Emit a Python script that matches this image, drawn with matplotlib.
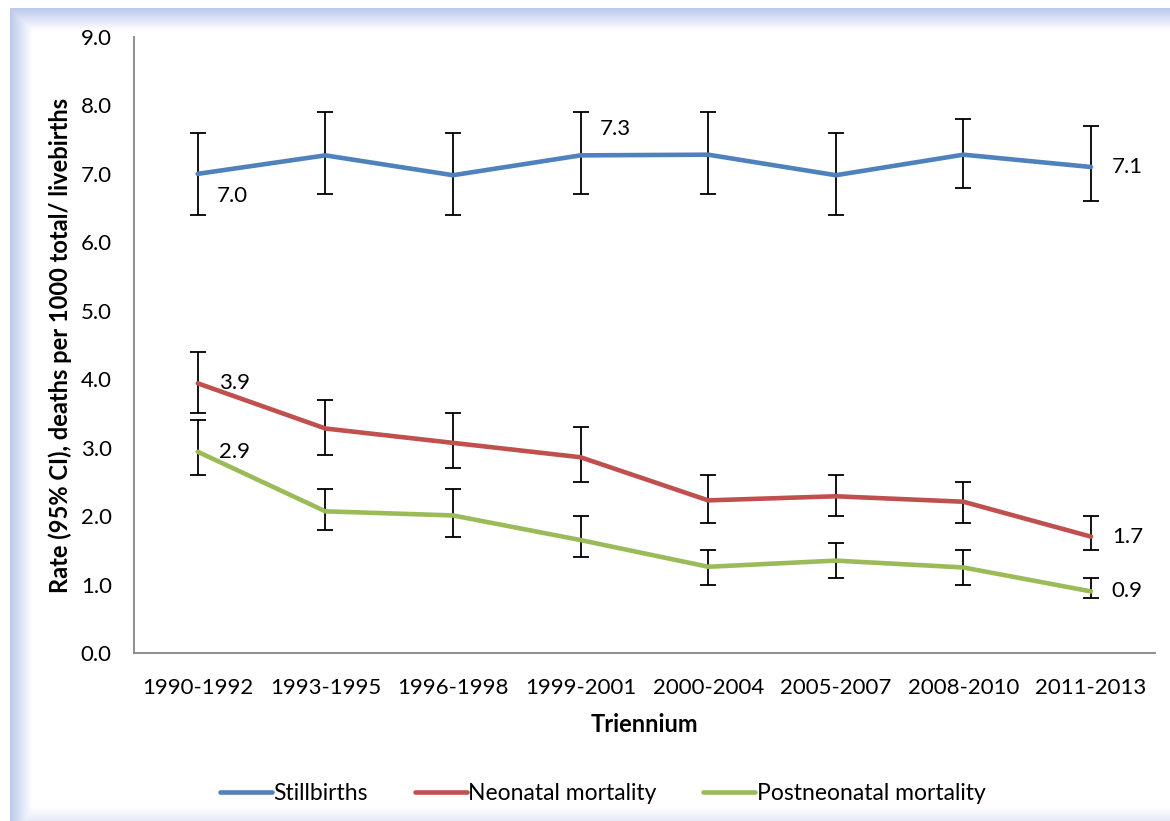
import numpy as np
import matplotlib.pyplot as plt

plt.rcParams['font.family'] = ['Lato', 'DejaVu Sans']

# trienniums on the x axis
periods = ['1990-1992', '1993-1995', '1996-1998', '1999-2001',
           '2000-2004', '2005-2007', '2008-2010', '2011-2013']

# rates per 1000 with 95% CI bounds
still_rate = [7.0, 7.27, 6.98, 7.27, 7.28, 6.98, 7.28, 7.1]
still_lo = [6.4, 6.7, 6.4, 6.7, 6.7, 6.4, 6.8, 6.6]
still_hi = [7.6, 7.9, 7.6, 7.9, 7.9, 7.6, 7.8, 7.7]

neo_rate = [3.94, 3.28, 3.07, 2.86, 2.23, 2.29, 2.21, 1.7]
neo_lo = [3.5, 2.9, 2.7, 2.5, 1.9, 2.0, 1.9, 1.5]
neo_hi = [4.4, 3.7, 3.5, 3.3, 2.6, 2.6, 2.5, 2.0]

post_rate = [2.94, 2.07, 2.01, 1.65, 1.26, 1.35, 1.25, 0.9]
post_lo = [2.6, 1.8, 1.7, 1.4, 1.0, 1.1, 1.0, 0.8]
post_hi = [3.4, 2.4, 2.4, 2.0, 1.5, 1.6, 1.5, 1.1]

series = [
    ('Stillbirths', still_rate, still_lo, still_hi, '#4F81BD'),
    ('Neonatal mortality', neo_rate, neo_lo, neo_hi, '#C0504D'),
    ('Postneonatal mortality', post_rate, post_lo, post_hi, '#9BBB59'),
]

# which points get a value label: (series index, point index, offset in points)
labelled = [
    (0, 0, (14, -16)), (0, 3, (14, 19)), (0, 7, (15, 0)),
    (1, 0, (15, 0)), (1, 7, (15, 0)),
    (2, 0, (15, 0)), (2, 7, (15, 0)),
]

W, H = 1170, 821
fig = plt.figure(figsize=(W / 100, H / 100), dpi=100)

# background panel: white page with a soft blue shade along its top, left and bottom edges
bg = fig.add_axes([0, 0, 1, 1], zorder=-1)
bg.set_axis_off()
px = np.arange(W)[None, :].astype(float)
py = np.arange(H)[:, None].astype(float)
shade = np.zeros((H, W))
shade = np.maximum(shade, np.clip(1 - (px - 10) / 22.0, 0, 1))
shade = np.maximum(shade, np.clip(1 - (py - 8) / 22.0, 0, 1))
shade = np.maximum(shade, 0.35 * np.clip(1 - (H - 1 - py) / 14.0, 0, 1))
shade = shade * (px >= 10) * (py >= 8)
rgba = np.ones((H, W, 4))
edge = np.array([0.74, 0.79, 0.93])
for c in range(3):
    rgba[..., c] = 1 - shade * (1 - edge[c])
bg.imshow(rgba, extent=(0, W, H, 0), aspect='auto', interpolation='bilinear')
bg.set_xlim(0, W)
bg.set_ylim(H, 0)

ax = fig.add_axes([0.1145, 0.2046, 0.8725, 0.7504])
ax.patch.set_alpha(0)
x = list(range(len(periods)))

handles = []
for name, rate, lo, hi, col in series:
    err = [[r - l for r, l in zip(rate, lo)], [h - r for r, h in zip(rate, hi)]]
    ax.errorbar(x, rate, yerr=err, fmt='none', ecolor='black', elinewidth=1.3,
                capsize=6, capthick=1.3, zorder=2)
    ln, = ax.plot(x, rate, color=col, lw=3.3, label=name, zorder=3,
                  solid_capstyle='round')
    handles.append(ln)

for si, pi, off in labelled:
    v = series[si][1][pi]
    ax.annotate(f'{v:.1f}', (x[pi], v), xytext=off, textcoords='offset points',
                ha='left', va='center', fontsize=16, color='black', zorder=4)

ax.set_xlim(-0.5, len(periods) - 0.5)
ax.set_ylim(0, 9)
ax.set_yticks([i for i in range(10)])
ax.set_yticklabels([f'{i:.1f}' for i in range(10)])
ax.set_xticks(x)
ax.set_xticklabels(periods)
ax.tick_params(axis='y', length=0, pad=16, labelsize=16)
ax.tick_params(axis='x', length=0, pad=18, labelsize=16)

for s in ['top', 'right']:
    ax.spines[s].set_visible(False)
for s in ['left', 'bottom']:
    ax.spines[s].set_color('#868686')
    ax.spines[s].set_linewidth(1.3)

ax.set_ylabel('Rate (95% CI), deaths per 1000 total/ livebirths',
              fontsize=17, fontweight='bold', labelpad=6)
ax.set_xlabel('Triennium', fontsize=17, fontweight='bold', labelpad=11)

fig.legend(handles=handles, loc='center', bbox_to_anchor=(0.515, 0.034),
           ncol=3, frameon=False, fontsize=16.5, handlelength=2.27,
           handletextpad=0.05, columnspacing=2.06)

fig.savefig('out.png', dpi=100)
